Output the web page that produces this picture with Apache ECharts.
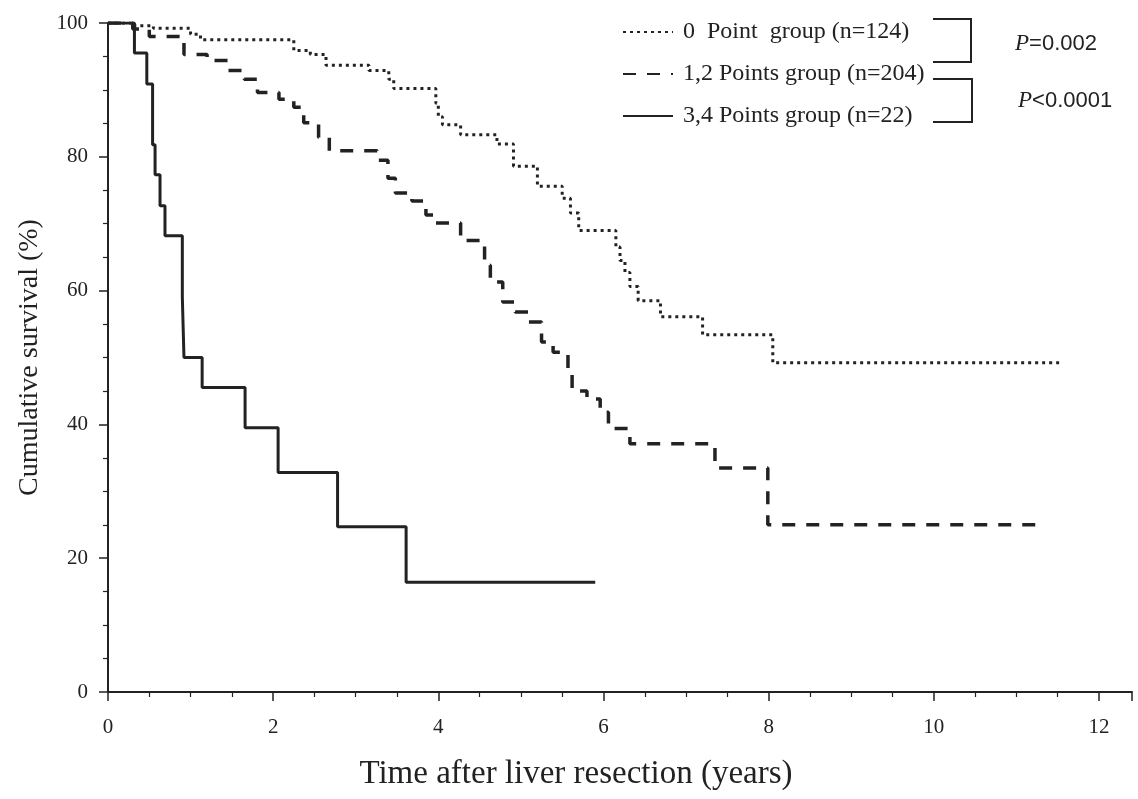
<!DOCTYPE html>
<html>
<head>
<meta charset="utf-8">
<script src="https://cdn.jsdelivr.net/npm/echarts@6/dist/echarts.min.js"></script>
<style>
  html, body { margin: 0; padding: 0; background: #fff; }
  #chart { width: 1138px; height: 799px; }
</style>
</head>
<body>
<div id="chart"></div>
<script>
// survival curves (years, %)
const group0Names = '0  Point  group (n=124)';
const group0Time = [0, 0.31, 0.55, 1.0, 1.12, 2.25, 2.45, 2.64, 3.16, 3.4, 3.46, 3.97, 4.0, 4.05, 4.27, 4.71, 4.91, 5.2, 5.5, 5.6, 5.7, 6.15, 6.2, 6.26, 6.32, 6.42, 6.69, 7.2, 8.05, 11.55];
const group0Surv = [100, 99.6, 99.2, 98.3, 97.5, 95.9, 95.3, 93.7, 92.9, 91.6, 90.2, 88.0, 86.0, 84.8, 83.3, 81.9, 78.6, 75.6, 73.8, 71.6, 69.0, 66.5, 64.5, 62.7, 60.6, 58.5, 56.1, 53.4, 49.2, 49.2];

const group12Names = '1,2 Points group (n=204)';
const group12Time = [0, 0.3, 0.5, 0.92, 1.2, 1.45, 1.65, 1.81, 2.07, 2.25, 2.37, 2.55, 2.68, 3.26, 3.39, 3.48, 3.68, 3.85, 3.95, 4.27, 4.56, 4.63, 4.78, 4.93, 5.09, 5.25, 5.39, 5.57, 5.62, 5.8, 5.96, 6.06, 6.32, 7.35, 7.99, 11.32];
const group12Surv = [100, 99.1, 98.0, 95.3, 94.4, 92.9, 91.6, 89.6, 88.6, 87.4, 85.1, 82.9, 80.9, 79.5, 76.8, 74.6, 73.4, 71.3, 70.1, 67.5, 63.8, 61.3, 58.3, 56.8, 55.3, 52.3, 50.8, 48.4, 45.0, 43.8, 41.8, 39.4, 37.1, 33.5, 25.0, 25.0];

const group34Names = '3,4 Points group (n=22)';
const group34Time = [0, 0.32, 0.47, 0.54, 0.57, 0.63, 0.69, 0.9, 0.91, 0.92, 1.14, 1.66, 2.06, 2.78, 3.61, 5.9];
const group34Surv = [100, 95.5, 90.9, 81.8, 77.3, 72.7, 68.2, 59.1, 54.5, 50.0, 45.5, 39.5, 32.8, 24.7, 16.4, 16.4];

const xTicks = [0, 2, 4, 6, 8, 10, 12];
const pValues = ['=0.002', '<0.0001'];

const ink = '#222';
const serif = 'Liberation Serif';

function pairs(t, s) {
  return t.map((v, i) => [v, s[i]]);
}

const chart = echarts.init(document.getElementById('chart'));

const pRich = {
  i: { fontFamily: serif, fontStyle: 'italic', fontSize: 23, fill: ink },
  n: { fontFamily: 'Liberation Sans Narrow, Liberation Sans', fontSize: 22, fill: ink }
};

chart.setOption({
  backgroundColor: '#fff',
  animation: false,
  grid: { left: 108, right: 6, top: 23, bottom: 107, containLabel: false, outerBoundsMode: 'none' },
  legend: {
    orient: 'vertical',
    left: 617,
    top: 15,
    itemWidth: 50,
    itemHeight: 20,
    itemGap: 18,
    itemStyle: { opacity: 0 },
    textStyle: { fontFamily: serif, fontSize: 24, lineHeight: 24, color: ink, padding: [0, 0, 0, 5] },
    data: [group0Names, group12Names, group34Names]
  },
  xAxis: {
    type: 'value',
    min: 0,
    max: 12.4,
    interval: 2,
    name: 'Time after liver resection (years)',
    nameLocation: 'middle',
    nameGap: 66,
    // the title sits a little left of the axis centre
    nameTextStyle: { fontFamily: serif, fontSize: 33, color: ink, padding: [0, 88, 0, 0] },
    axisLine: { lineStyle: { color: ink, width: 2 } },
    axisTick: { length: 9, lineStyle: { color: ink, width: 1.5 } },
    minorTick: { show: true, splitNumber: 4, length: 5, lineStyle: { color: ink, width: 1.2 } },
    axisLabel: {
      margin: 25,
      fontFamily: serif,
      fontSize: 21,
      color: ink,
      showMaxLabel: false,
      formatter: v => (xTicks.indexOf(v) >= 0 ? String(v) : '')
    },
    splitLine: { show: false }
  },
  yAxis: {
    type: 'value',
    min: 0,
    max: 100,
    interval: 20,
    name: 'Cumulative survival (%)',
    nameLocation: 'middle',
    nameGap: 64,
    nameTextStyle: { fontFamily: serif, fontSize: 28, color: ink },
    axisLine: { lineStyle: { color: ink, width: 2 } },
    axisTick: { length: 9, lineStyle: { color: ink, width: 1.5 } },
    minorTick: { show: true, splitNumber: 4, length: 5, lineStyle: { color: ink, width: 1.2 } },
    axisLabel: { margin: 20, fontFamily: serif, fontSize: 21, color: ink },
    splitLine: { show: false }
  },
  series: [
    {
      name: group0Names,
      type: 'line',
      step: 'end',
      symbol: 'none',
      data: pairs(group0Time, group0Surv),
      lineStyle: { color: ink, width: 3, type: [3, 4] },
      itemStyle: { color: ink }
    },
    {
      name: group12Names,
      type: 'line',
      step: 'end',
      symbol: 'none',
      data: pairs(group12Time, group12Surv),
      lineStyle: { color: ink, width: 3.5, type: [13, 11] },
      itemStyle: { color: ink }
    },
    {
      name: group34Names,
      type: 'line',
      step: 'end',
      symbol: 'none',
      data: pairs(group34Time, group34Surv),
      lineStyle: { color: ink, width: 3 },
      itemStyle: { color: ink }
    }
  ],
  graphic: [
    {
      type: 'polyline',
      shape: { points: [[933, 19], [971, 19], [971, 62], [933, 62]] },
      style: { stroke: ink, lineWidth: 2, fill: null }
    },
    {
      type: 'polyline',
      shape: { points: [[933, 79], [972, 79], [972, 122], [933, 122]] },
      style: { stroke: ink, lineWidth: 2, fill: null }
    },
    {
      type: 'text',
      left: 1015,
      top: 32,
      style: { text: '{i|P}{n|' + pValues[0] + '}', rich: pRich }
    },
    {
      type: 'text',
      left: 1018,
      top: 89,
      style: { text: '{i|P}{n|' + pValues[1] + '}', rich: pRich }
    }
  ]
});
</script>
</body>
</html>
